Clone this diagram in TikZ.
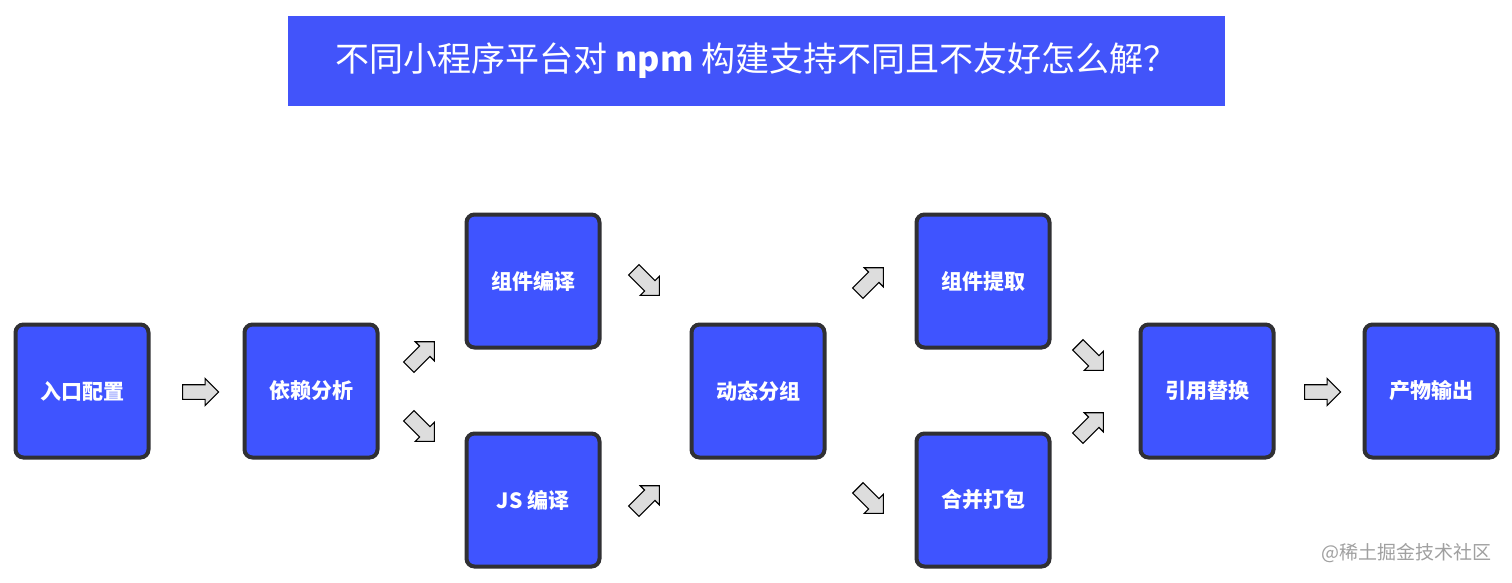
\documentclass[tikz,border=0pt]{standalone}
\usepackage{fontspec}
\setmainfont{Noto Sans CJK SC}
\usetikzlibrary{shapes.arrows}
\definecolor{boxblue}{RGB}{63,84,255}
\definecolor{bannerblue}{RGB}{66,84,250}
\definecolor{boxedge}{RGB}{48,48,52}
\definecolor{arrowgray}{RGB}{221,221,221}
\definecolor{wmgray}{RGB}{160,160,160}
\tikzset{
  stepbox/.style={draw=boxedge, line width=4pt, fill=boxblue, rounded corners=8pt,
    minimum width=133pt, minimum height=133pt, inner sep=0pt,
    text=white, font=\bfseries\fontsize{21}{25}\selectfont},
  blockarrow/.style={single arrow, draw=black, fill=arrowgray, line width=1.1pt,
    minimum height=36pt, minimum width=27pt, inner sep=6.5pt,
    single arrow head extend=6pt, single arrow head indent=0pt},
  banner/.style={fill=bannerblue, minimum width=937pt, minimum height=90pt, inner sep=0pt,
    text=white, font=\fontsize{34}{40}\selectfont},
  watermark/.style={text=wmgray, font=\fontsize{19}{23}\selectfont, anchor=east}
}
\begin{document}
\begin{tikzpicture}[x=1pt,y=-1pt]
\useasboundingbox (0,0) rectangle (1512,582);
\fill[white] (0,0) rectangle (1512,582);
\node[banner] (title) at (756.5,61) {不同小程序平台对 \textbf{npm} 构建支持不同且不友好怎么解？};

\node[stepbox] (entry) at (82,391) {入口配置};
\node[stepbox] (deps) at (311,391) {依赖分析};
\node[stepbox] (compc) at (533,281) {组件编译};
\node[stepbox] (compjs) at (533,500) {JS 编译};
\node[stepbox] (group) at (758,391) {动态分组};
\node[stepbox] (extract) at (983,281) {组件提取};
\node[stepbox] (merge) at (983,500) {合并打包};
\node[stepbox] (replace) at (1207,391) {引用替换};
\node[stepbox] (output) at (1431,391) {产物输出};

\node[blockarrow] (a1) at (197,392) {};
\node[blockarrow, rotate=45] (a2) at (419,357) {};
\node[blockarrow, rotate=-45] (a3) at (419,426) {};
\node[blockarrow, rotate=-45] (a4) at (644,280) {};
\node[blockarrow, rotate=45] (a5) at (644,501) {};
\node[blockarrow, rotate=45] (a6) at (868,283) {};
\node[blockarrow, rotate=-45] (a7) at (868,498) {};
\node[blockarrow, rotate=-45] (a8) at (1088,355) {};
\node[blockarrow, rotate=45] (a9) at (1088,428) {};
\node[blockarrow] (a10) at (1319,392) {};

\node[watermark] (wm) at (1495,553) {@稀土掘金技术社区};
\end{tikzpicture}
\end{document}
